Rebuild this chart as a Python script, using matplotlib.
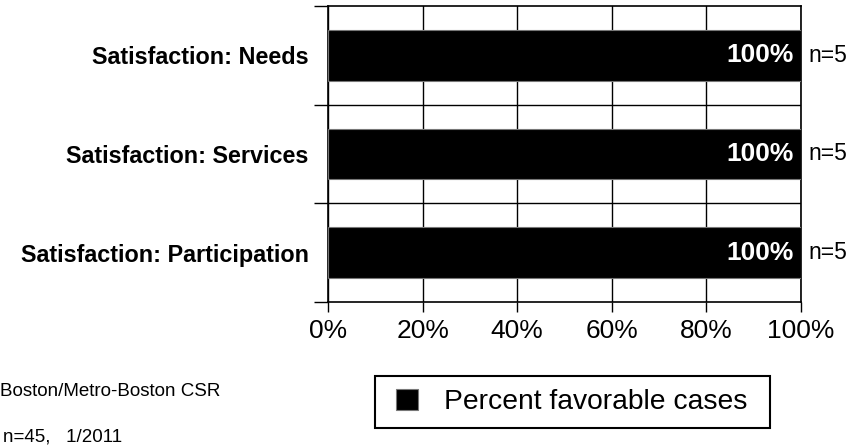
import matplotlib.pyplot as plt
from matplotlib.patches import Rectangle
import numpy as np

plt.rcParams['font.family'] = ['Liberation Sans', 'DejaVu Sans']

# data
categories = ['Satisfaction: Needs', 'Satisfaction: Services', 'Satisfaction: Participation']
favorable = [100, 100, 100]
counts = ['n=5', 'n=5', 'n=5']
x_ticks = [0, 20, 40, 60, 80, 100]

fig = plt.figure(figsize=(8.65, 4.46), dpi=100)
ax = fig.add_axes([328 / 865, 144 / 446, 473 / 865, 296 / 446])

y = np.arange(len(categories))
ax.barh(y, favorable, height=0.515, color='black', edgecolor='#777777',
        linewidth=0.8, label='Percent favorable cases', zorder=3)

ax.set_xlim(0, 100)
ax.set_ylim(len(categories) - 0.5, -0.5)

# vertical grid
ax.set_xticks(x_ticks)
ax.set_xticklabels([f'{t}%' for t in x_ticks], fontsize=19)
ax.xaxis.grid(True, color='black', linewidth=1.0, zorder=1)
ax.tick_params(axis='x', length=7, width=1.0, pad=5)

# category labels + boundary ticks/lines
ax.set_yticks(y)
ax.set_yticklabels(categories, fontsize=16.8, fontweight='bold')
ax.tick_params(axis='y', which='major', length=0, pad=14)
bounds = np.arange(-0.5, len(categories), 1.0)
ax.set_yticks(bounds, minor=True)
ax.tick_params(axis='y', which='minor', length=10, width=1.0)
for b in bounds[1:-1]:
    ax.axhline(b, color='black', linewidth=1.0, zorder=2)

for s in ax.spines.values():
    s.set_linewidth(1.2)

for yi, v, n in zip(y, favorable, counts):
    ax.annotate(f'{v}%', (v, yi), xytext=(-5, 0), textcoords='offset points',
                color='white', fontsize=19, fontweight='bold',
                ha='right', va='center', zorder=4)
    ax.annotate(n, (v, yi), xytext=(5, 0), textcoords='offset points',
                ha='left', va='center', fontsize=16.5, annotation_clip=False)

leg = fig.legend(loc='center', bbox_to_anchor=(571.5 / 865, 1 - 402 / 446),
                 fontsize=20.3, frameon=False,
                 handlelength=0.8, handleheight=0.8, handletextpad=0.9,
                 borderpad=0.35, borderaxespad=0)
fig.patches.append(Rectangle((375 / 865, 1 - 428 / 446), 395 / 865, 52 / 446,
                             transform=fig.transFigure, fill=False,
                             edgecolor='black', linewidth=1.5))

fig.text(0, 1 - 391 / 446, 'Boston/Metro-Boston CSR', fontsize=13.5, va='center')
fig.text(3 / 865, 1 - 437 / 446, 'n=45,   1/2011', fontsize=13.5, va='center')

fig.savefig('out.png', dpi=100)
